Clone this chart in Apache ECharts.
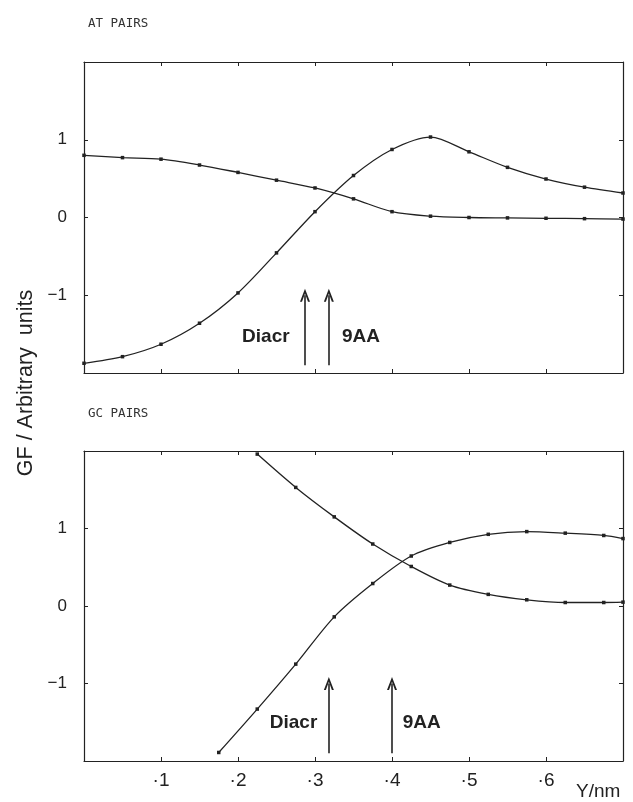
<!DOCTYPE html>
<html>
<head>
<meta charset="utf-8">
<script src="https://cdn.jsdelivr.net/npm/echarts@6/dist/echarts.min.js"></script>
<style>html,body{margin:0;padding:0;background:#fff;}#c{width:633px;height:802px;}</style>
</head>
<body>
<div id="c"></div>
<script>
// ---- data ----
const atX   = [0, 0.05, 0.10, 0.15, 0.20, 0.25, 0.30, 0.35, 0.40, 0.45, 0.50, 0.55, 0.60, 0.65, 0.70];
const atFalling = [0.80, 0.77, 0.75, 0.675, 0.58, 0.48, 0.38, 0.24, 0.075, 0.017, 0.0, -0.005, -0.01, -0.015, -0.02];
const atRising  = [-1.875, -1.79, -1.63, -1.36, -0.97, -0.455, 0.075, 0.54, 0.875, 1.035, 0.845, 0.645, 0.495, 0.39, 0.315];

const gcFallX = [0.225, 0.275, 0.325, 0.375, 0.425, 0.475, 0.525, 0.575, 0.625, 0.675, 0.70];
const gcFalling = [1.96, 1.53, 1.15, 0.80, 0.51, 0.27, 0.15, 0.08, 0.045, 0.045, 0.05];
const gcRiseX = [0.175, 0.225, 0.275, 0.325, 0.375, 0.425, 0.475, 0.525, 0.575, 0.625, 0.675, 0.70];
const gcRising = [-1.89, -1.33, -0.75, -0.14, 0.29, 0.645, 0.82, 0.925, 0.96, 0.94, 0.91, 0.87];

const arrowNames = ['Diacr', '9AA'];
const atArrowX = [0.287, 0.318];
const gcArrowX = [0.318, 0.400];
const arrowTip = -1.0, arrowBase = -1.9;
const atLabelX = [0.267, 0.335];
const gcLabelX = [0.303, 0.414];
const atLabelY = -1.54, gcLabelY = -1.51;

const panelTitles = ['AT PAIRS', 'GC PAIRS'];
const yLabels = {'-1': '\u22121', '0': '0', '1': '1'};

// ---- chart ----
const ink = '#222';
const chart = echarts.init(document.getElementById('c'), null, {renderer: 'canvas'});
const grids = [
  {left: 84, top: 62, width: 539, height: 311},
  {left: 84, top: 451, width: 539, height: 310}
];
function xAx(g, pos, labels) {
  return {type: 'value', gridIndex: g, position: pos, min: 0, max: 0.7, interval: 0.1,
    axisLine: {show: true, onZero: false, lineStyle: {color: ink, width: 1.2}},
    axisTick: {show: true, inside: true, length: 4, lineStyle: {color: ink}},
    splitLine: {show: false},
    axisLabel: {show: labels, color: ink, fontSize: 19, fontFamily: 'Liberation Sans, Arial', margin: 10,
      formatter: v => (v > 0.001 && v < 0.699) ? '\u00b7' + Math.round(v * 10) : ''}};
}
function yAx(g, pos, labels) {
  return {type: 'value', gridIndex: g, position: pos, min: -2, max: 2, interval: 1,
    axisLine: {show: true, onZero: false, lineStyle: {color: ink, width: 1.2}},
    axisTick: {show: true, inside: true, length: 4, lineStyle: {color: ink}},
    splitLine: {show: false},
    axisLabel: {show: labels, color: ink, fontSize: 17, fontFamily: 'Liberation Sans, Arial', margin: 17,
      formatter: v => yLabels[String(Math.round(v))] || ''}};
}
function zip(xs, ys) { return xs.map((x, i) => [x, ys[i]]); }
function curve(xi, yi, xs, ys) {
  return {type: 'line', xAxisIndex: xi, yAxisIndex: yi, data: zip(xs, ys), smooth: 0.3,
    symbol: 'rect', symbolSize: 3.5, showSymbol: true, clip: true,
    lineStyle: {color: ink, width: 1.3}, itemStyle: {color: ink}, silent: true, animation: false};
}
const chevron = 'path://M0,10 L5,0 L10,10 L8,10 L5,3.6 L2,10 Z';
function arrowsSeries(xi, yi, arrowX, labelX, labelY) {
  return {type: 'scatter', xAxisIndex: xi, yAxisIndex: yi, data: [], silent: true, animation: false,
    markLine: {silent: true, animation: false, symbol: ['none', chevron], symbolSize: [10, 13],
      label: {show: false}, lineStyle: {color: ink, width: 1.6, type: 'solid'},
      data: arrowX.map(x => [{coord: [x, arrowBase]}, {coord: [x, arrowTip]}])},
    markPoint: {silent: true, animation: false, symbol: 'rect', symbolSize: 0,
      data: arrowNames.map((n, i) => ({coord: [labelX[i], labelY], name: n,
        label: {show: true, formatter: n, color: ink, fontSize: 19, fontWeight: 'bold',
          fontFamily: 'Liberation Sans, Arial', align: i === 0 ? 'right' : 'left', verticalAlign: 'middle', position: 'inside'}}))}};
}
chart.setOption({
  backgroundColor: '#fff',
  animation: false,
  title: [
    {text: panelTitles[0], left: 83, top: 12, textStyle: {fontFamily: 'DejaVu Sans Mono', fontSize: 12.5, fontWeight: 'normal', color: '#333'}},
    {text: panelTitles[1], left: 83, top: 402, textStyle: {fontFamily: 'DejaVu Sans Mono', fontSize: 12.5, fontWeight: 'normal', color: '#333'}}
  ],
  grid: grids,
  xAxis: [xAx(0, 'bottom', false), xAx(0, 'top', false), xAx(1, 'bottom', true), xAx(1, 'top', false)],
  yAxis: [yAx(0, 'left', true), yAx(0, 'right', false), yAx(1, 'left', true), yAx(1, 'right', false)],
  series: [
    curve(0, 0, atX, atFalling),
    curve(0, 0, atX, atRising),
    curve(2, 2, gcFallX, gcFalling),
    curve(2, 2, gcRiseX, gcRising),
    arrowsSeries(0, 0, atArrowX, atLabelX, atLabelY),
    arrowsSeries(2, 2, gcArrowX, gcLabelX, gcLabelY)
  ],
  graphic: [
    {type: 'text', x: 26, y: 383, rotation: Math.PI / 2,
      style: {text: 'GF / Arbitrary  units', fontSize: 21.5, fontFamily: 'Liberation Sans, Arial', fill: ink,
        align: 'center', verticalAlign: 'middle'}},
    {type: 'text', x: 576, y: 792,
      style: {text: 'Y/nm', fontSize: 19, fontFamily: 'Liberation Sans, Arial', fill: ink, align: 'left', verticalAlign: 'middle'}}
  ]
});
</script>
</body>
</html>
